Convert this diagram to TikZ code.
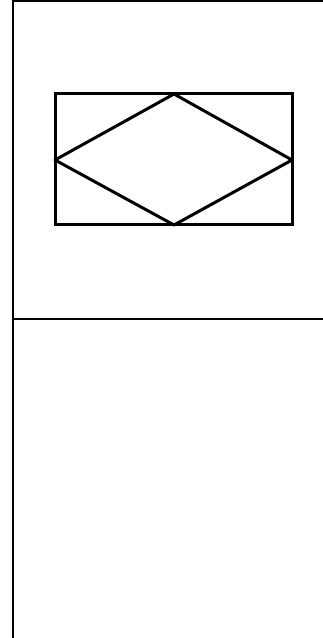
\documentclass[tikz,border=0pt]{standalone}
\begin{document}
\begin{tikzpicture}[x=1pt,y=1pt,
  frame/.style={line width=1.4pt},
  thick line/.style={line width=3pt,line join=round}]
\useasboundingbox (0,0) rectangle (323,638);
\coordinate(tl) at (13,637);
\coordinate(tr) at (323,637);
\coordinate(bl) at (13,0);
\coordinate(ml) at (13,319);
\coordinate(mr) at (323,319);
\draw[frame] (tr) -- (tl) -- (bl);
\draw[frame] (ml) -- (mr);
\coordinate(box sw) at (55,413);
\coordinate(box ne) at (292,544);
\coordinate(top) at (174,544);
\coordinate(left) at (55,478);
\coordinate(right) at (292,478);
\coordinate(bottom) at (174,413);
\draw[thick line,line join=miter] (box sw) rectangle (box ne);
\draw[thick line] (top) -- (right) -- (bottom) -- (left) -- cycle;
\end{tikzpicture}
\end{document}
